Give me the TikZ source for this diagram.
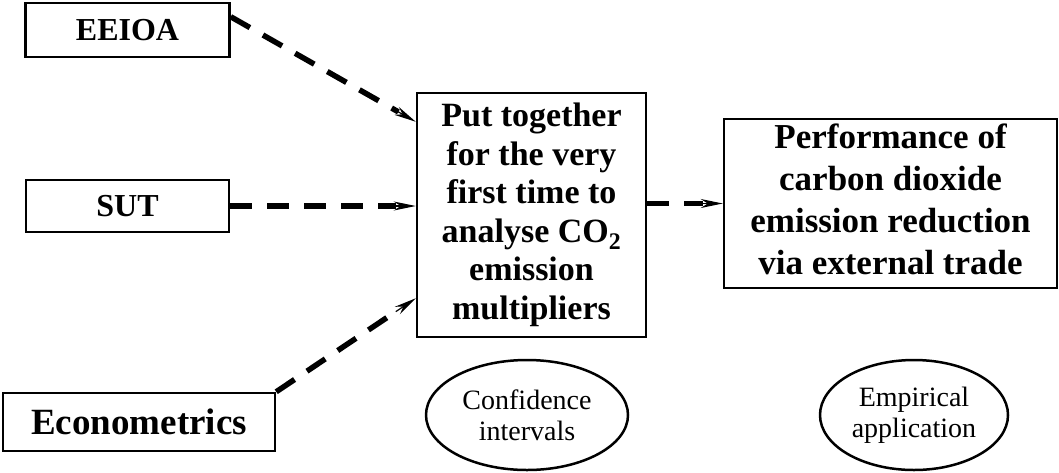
\documentclass[tikz,border=0pt]{standalone}
\usepackage{fontspec}
\setmainfont{Liberation Serif}
\usetikzlibrary{shapes.geometric,arrows.meta,calc}
\begin{document}
\begin{tikzpicture}[x=1pt,y=-1pt,
  box/.style={draw,line width=2.5pt,inner sep=0pt,align=center},
  oval/.style={draw,ellipse,line width=2.5pt,inner sep=0pt,align=center,
    minimum height=110pt,font=\fontsize{28}{31}\selectfont},
  dashline/.style={line width=5.5pt,dash pattern=on 22pt off 15pt},
  tipline/.style={line width=1.2pt,-{Stealth[length=22pt,width=9pt,inset=7pt]}}
]
\useasboundingbox (0,0) rectangle (1059,472);
% boxes
\node[box,minimum width=204pt,minimum height=54pt,
  font=\bfseries\fontsize{32}{32}\selectfont] (eeioa) at (127.5,30) {EEIOA};
\node[box,minimum width=203pt,minimum height=52pt,
  font=\bfseries\fontsize{32}{32}\selectfont] (sut) at (127.5,206) {SUT};
\node[box,minimum width=272pt,minimum height=58pt,
  font=\bfseries\fontsize{37}{37}\selectfont] (econ) at (139,422) {Econometrics};
\node[box,minimum width=229pt,minimum height=244pt,
  font=\bfseries\fontsize{34}{38.5}\selectfont] (central) at (531.5,215)
  {Put together\\for the very\\first time to\\analyse CO\textsubscript{2}\\emission\\multipliers};
\node[box,minimum width=333pt,minimum height=169pt] (perf) at (890.5,203.5) {};
\node[align=center,inner sep=0pt,font=\bfseries\fontsize{35}{42}\selectfont]
  (perftext) at ([yshift=4pt]perf.center)
  {Performance of\\carbon dioxide\\emission reduction\\via external trade};
% ellipses
\node[oval,minimum width=202pt] (conf) at (527,415) {Confidence\\intervals};
\node[oval,minimum width=188pt] (emp) at (914,415) {Empirical\\application};
% connector end points
\coordinate (a1) at ([yshift=-15pt]eeioa.north east);
\coordinate (b1) at ([yshift=-30pt]central.north west);
\coordinate (a2) at (sut.east);
\coordinate (b2) at (sut.east -| central.west);
\coordinate (a3) at (econ.north east);
\coordinate (b3) at ([yshift=40pt]central.south west);
\coordinate (a4) at (perf.west -| central.east);
\coordinate (b4) at (perf.west);
% connectors
\foreach \s/\t in {a1/b1,a2/b2,a3/b3,a4/b4}{
  \draw[dashline] (\s) -- ($(\t)!20pt!(\s)$);
  \draw[tipline] ($(\t)!24pt!(\s)$) -- (\t);
}
\end{tikzpicture}
\end{document}
